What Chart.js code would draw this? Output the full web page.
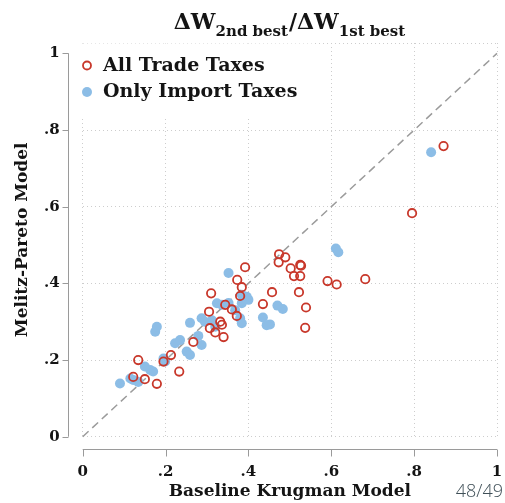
<!DOCTYPE html>
<html>
<head>
<meta charset="utf-8">
<script src="https://cdn.jsdelivr.net/npm/chart.js@4/dist/chart.umd.min.js"></script>
<style>
  html, body { margin: 0; padding: 0; background: #fff; }
  canvas { display: block; }
</style>
</head>
<body>
<canvas id="chart" width="505" height="503"></canvas>
<script>
// Welfare gain ratios: Melitz-Pareto model vs. baseline Krugman model
const allTradeX = [0.871, 0.795, 0.682, 0.591, 0.613, 0.474, 0.489, 0.473, 0.502, 0.525,
                   0.527, 0.510, 0.525, 0.457, 0.522, 0.539, 0.537, 0.435, 0.392, 0.373,
                   0.384, 0.310, 0.380, 0.344, 0.360, 0.305, 0.372, 0.332, 0.307, 0.336,
                   0.320, 0.340, 0.267, 0.213, 0.195, 0.134, 0.233, 0.179, 0.150, 0.122];
const allTradeY = [0.758, 0.583, 0.411, 0.406, 0.397, 0.476, 0.468, 0.455, 0.439, 0.448,
                   0.446, 0.419, 0.419, 0.377, 0.377, 0.337, 0.284, 0.346, 0.442, 0.409,
                   0.390, 0.374, 0.367, 0.344, 0.332, 0.326, 0.315, 0.300, 0.283, 0.292,
                   0.272, 0.260, 0.247, 0.213, 0.196, 0.200, 0.170, 0.138, 0.150, 0.156];
const importX = [0.841, 0.611, 0.617, 0.470, 0.483, 0.452, 0.435, 0.444, 0.352, 0.384,
                 0.396, 0.400, 0.384, 0.324, 0.336, 0.352, 0.368, 0.380, 0.384, 0.287,
                 0.295, 0.312, 0.320, 0.259, 0.279, 0.287, 0.223, 0.235, 0.251, 0.259,
                 0.195, 0.199, 0.150, 0.163, 0.170, 0.115, 0.122, 0.134, 0.090, 0.175,
                 0.179];
const importY = [0.742, 0.491, 0.481, 0.342, 0.333, 0.293, 0.311, 0.291, 0.427, 0.370,
                 0.365, 0.357, 0.348, 0.348, 0.344, 0.349, 0.330, 0.309, 0.296, 0.309,
                 0.300, 0.304, 0.287, 0.297, 0.263, 0.239, 0.244, 0.252, 0.222, 0.213,
                 0.204, 0.196, 0.183, 0.174, 0.170, 0.152, 0.148, 0.143, 0.139, 0.274,
                 0.287];
const diagonal = [0, 1];

const tickValues = [0, 0.2, 0.4, 0.6, 0.8, 1];
const tickLabels = ['0', '.2', '.4', '.6', '.8', '1'];
const seriesNames = ['All Trade Taxes', 'Only Import Taxes'];
const xTitle = 'Baseline Krugman Model';
const yTitle = 'Melitz-Pareto Model';
const titleParts = [['ΔW', 'main'], ['2nd best', 'sub'], ['/', 'main'], ['ΔW', 'main'], ['1st best', 'sub']];
const pageLabel = '48/49';

const SERIF = '"DejaVu Serif", serif';
const RED = '#c8372a';
const BLUE = '#8cbde6';
const AXIS = '#9a9a9a';
const GRID = '#cdcdcd';
const TEXT = '#141414';
const Y_TOP = 1.027;

const toPoints = (xs, ys) => xs.map((x, i) => ({ x: x, y: ys[i] }));
const labelFor = v => {
  const i = tickValues.findIndex(t => Math.abs(t - v) < 1e-9);
  return i >= 0 ? tickLabels[i] : '';
};

// Detached axis lines with outward tick marks (drawn from the scales)
const detachedAxes = {
  id: 'detachedAxes',
  afterDraw(chart) {
    const { ctx, scales: { x, y } } = chart;
    const x0 = x.getPixelForValue(0), x1 = x.getPixelForValue(1);
    const y0 = y.getPixelForValue(0), y1 = y.getPixelForValue(1);
    const axisX = Math.round(x0 - 14.7) + 0.5, axisY = Math.round(y0 + 12.6) + 0.5;
    ctx.save();
    ctx.strokeStyle = AXIS;
    ctx.lineWidth = 1;
    ctx.beginPath();
    ctx.moveTo(axisX, y1); ctx.lineTo(axisX, y0);
    tickValues.forEach(v => {
      const py = Math.round(y.getPixelForValue(v)) + 0.5;
      ctx.moveTo(axisX - 6, py); ctx.lineTo(axisX, py);
    });
    ctx.moveTo(x0, axisY); ctx.lineTo(x1, axisY);
    tickValues.forEach(v => {
      const px = Math.round(x.getPixelForValue(v)) + 0.5;
      ctx.moveTo(px, axisY); ctx.lineTo(px, axisY + 7);
    });
    ctx.stroke();
    ctx.restore();
  }
};

// Legend box inside the plot region, covering the grid behind it
const insetLegend = {
  id: 'insetLegend',
  beforeDatasetsDraw(chart) {
    const { ctx } = chart;
    ctx.save();
    ctx.fillStyle = '#fff';
    ctx.fillRect(72, 43.5, 241, 75);
    const rows = [
      { y: 65.5, name: seriesNames[0], hollow: true },
      { y: 92, name: seriesNames[1], hollow: false }
    ];
    rows.forEach(r => {
      ctx.beginPath();
      if (r.hollow) {
        ctx.arc(87, r.y, 4, 0, Math.PI * 2);
        ctx.strokeStyle = RED; ctx.lineWidth = 1.8; ctx.stroke();
      } else {
        ctx.arc(87, r.y, 5, 0, Math.PI * 2);
        ctx.fillStyle = BLUE; ctx.fill();
      }
      ctx.fillStyle = TEXT;
      ctx.font = 'bold 19px ' + SERIF;
      ctx.textBaseline = 'middle';
      ctx.textAlign = 'left';
      ctx.fillText(r.name, 103, r.y + 0.5);
    });
    ctx.restore();
  }
};

// Title with subscripts, and the page counter
const headerFooter = {
  id: 'headerFooter',
  afterDraw(chart) {
    const { ctx } = chart;
    ctx.save();
    ctx.fillStyle = TEXT;
    ctx.textBaseline = 'alphabetic';
    ctx.textAlign = 'left';
    const fonts = { main: 'bold 22px ' + SERIF, sub: 'bold 15px ' + SERIF };
    const drops = { main: 0, sub: 7 };
    let total = 0;
    const widths = titleParts.map(([t, k]) => {
      ctx.font = fonts[k];
      const w = ctx.measureText(t).width + (k === 'sub' ? 1 : 0);
      total += w;
      return w;
    });
    let cx = 290 - total / 2;
    titleParts.forEach(([t, k], i) => {
      ctx.font = fonts[k];
      ctx.fillText(t, cx, 29 + drops[k]);
      cx += widths[i];
    });
    ctx.font = '300 18px "Open Sans", sans-serif';
    ctx.fillStyle = '#3f4f57';
    ctx.textAlign = 'right';
    ctx.fillText(pageLabel, 503, 497);
    ctx.restore();
  }
};

new Chart(document.getElementById('chart'), {
  type: 'scatter',
  data: {
    datasets: [
      {
        label: 'Diagonal',
        type: 'line',
        data: toPoints(diagonal, diagonal),
        borderColor: '#9b9b9b',
        borderWidth: 1.5,
        borderDash: [8, 5],
        pointRadius: 0,
        fill: false,
        order: 3
      },
      {
        label: seriesNames[1],
        data: toPoints(importX, importY),
        pointRadius: 5,
        pointBackgroundColor: BLUE,
        pointBorderWidth: 0,
        pointBorderColor: BLUE,
        order: 2
      },
      {
        label: seriesNames[0],
        data: toPoints(allTradeX, allTradeY),
        pointRadius: 4.2,
        pointBackgroundColor: 'rgba(0,0,0,0)',
        pointBorderColor: RED,
        pointBorderWidth: 1.8,
        order: 1
      }
    ]
  },
  options: {
    responsive: false,
    animation: false,
    clip: false,
    layout: { padding: { top: 43, right: 8, bottom: 0, left: 0 } },
    plugins: {
      legend: { display: false },
      tooltip: { enabled: false },
      title: { display: false }
    },
    scales: {
      x: {
        type: 'linear',
        min: 0,
        max: 1,
        afterBuildTicks: s => { s.ticks = tickValues.map(v => ({ value: v })); },
        afterFit: s => { s.height = 66.3; s.paddingLeft = 0; s.paddingRight = 0; },
        border: { display: false, dash: [1, 3] },
        grid: { color: GRID, drawTicks: false, lineWidth: 1 },
        ticks: {
          callback: v => labelFor(v),
          font: { family: SERIF, size: 15, weight: 'bold' },
          color: TEXT,
          padding: 26,
          maxRotation: 0,
          autoSkip: false
        },
        title: {
          display: true,
          text: xTitle,
          font: { family: SERIF, size: 17, weight: 'bold' },
          color: TEXT,
          padding: 1
        }
      },
      y: {
        type: 'linear',
        min: 0,
        max: Y_TOP,
        afterBuildTicks: s => { s.ticks = tickValues.concat([Y_TOP]).map(v => ({ value: v })); },
        afterFit: s => { s.width = 82.7; s.paddingTop = 0; s.paddingBottom = 0; },
        border: { display: false, dash: [1, 3] },
        grid: {
          color: c => (c.tick && Math.abs(c.tick.value - 1) < 1e-9) ? 'rgba(0,0,0,0)' : GRID,
          drawTicks: false,
          lineWidth: 1
        },
        ticks: {
          callback: v => labelFor(v),
          font: { family: SERIF, size: 15, weight: 'bold' },
          color: TEXT,
          padding: 23,
          autoSkip: false
        },
        title: {
          display: true,
          text: yTitle,
          font: { family: SERIF, size: 17, weight: 'bold' },
          color: TEXT,
          padding: 12
        }
      }
    }
  },
  plugins: [insetLegend, detachedAxes, headerFooter]
});
</script>
</body>
</html>
